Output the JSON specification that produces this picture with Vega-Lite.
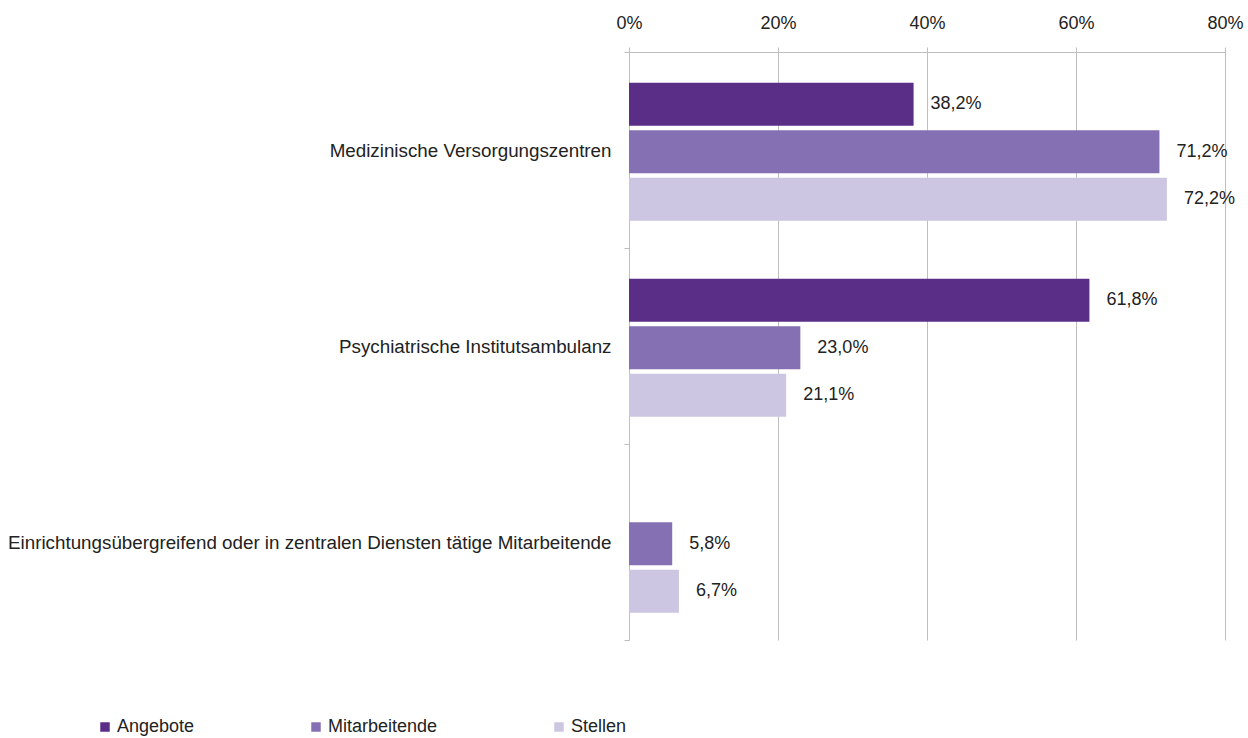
{
  "$schema": "https://vega.github.io/schema/vega-lite/v6.json",
  "autosize": {"type": "none"},
  "padding": {"left": 629, "top": 52, "right": 23, "bottom": 98},
  "width": 596,
  "height": 588,
  "config": {
    "view": {"stroke": null},
    "font": "Liberation Sans",
    "locale": {"number": {"decimal": ",", "thousands": ".", "grouping": [3], "currency": ["", " €"]}}
  },
  "data": {
    "values": [
      {"kategorie": "Medizinische Versorgungszentren", "serie": "Angebote", "wert": 0.382},
      {"kategorie": "Medizinische Versorgungszentren", "serie": "Mitarbeitende", "wert": 0.712},
      {"kategorie": "Medizinische Versorgungszentren", "serie": "Stellen", "wert": 0.722},
      {"kategorie": "Psychiatrische Institutsambulanz", "serie": "Angebote", "wert": 0.618},
      {"kategorie": "Psychiatrische Institutsambulanz", "serie": "Mitarbeitende", "wert": 0.230},
      {"kategorie": "Psychiatrische Institutsambulanz", "serie": "Stellen", "wert": 0.211},
      {"kategorie": "Einrichtungsübergreifend oder in zentralen Diensten tätige Mitarbeitende", "serie": "Mitarbeitende", "wert": 0.058},
      {"kategorie": "Einrichtungsübergreifend oder in zentralen Diensten tätige Mitarbeitende", "serie": "Stellen", "wert": 0.067}
    ]
  },
  "encoding": {
    "y": {
      "field": "kategorie",
      "type": "nominal",
      "sort": null,
      "title": null,
      "scale": {"paddingInner": 0, "paddingOuter": 0},
      "axis": {
        "tickBand": "extent",
        "tickSize": 5,
        "tickColor": "#bfbfbf",
        "domainColor": "#bfbfbf",
        "labelFontSize": 18.8,
        "labelColor": "#222222",
        "labelPadding": 13,
        "labelLimit": 700,
        "grid": false
      }
    },
    "yOffset": {
      "field": "serie",
      "type": "nominal",
      "sort": ["Angebote", "Mitarbeitende", "Stellen"],
      "scale": {"domain": ["Angebote", "Mitarbeitende", "Stellen"], "paddingInner": 0.095, "paddingOuter": 0.61, "align": 0.53}
    },
    "x": {
      "field": "wert",
      "type": "quantitative",
      "title": null,
      "scale": {"domain": [0, 0.8], "nice": false},
      "axis": {
        "orient": "top",
        "values": [0, 0.2, 0.4, 0.6, 0.8],
        "format": ".0%",
        "labelFontSize": 18,
        "labelColor": "#222222",
        "tickSize": 5,
        "tickColor": "#bfbfbf",
        "domainColor": "#bfbfbf",
        "gridColor": "#bfbfbf",
        "labelPadding": 15,
        "labelFlush": false
      }
    }
  },
  "layer": [
    {
      "mark": {"type": "bar"},
      "encoding": {
        "color": {
          "field": "serie",
          "type": "nominal",
          "scale": {"domain": ["Angebote", "Mitarbeitende", "Stellen"], "range": ["#5a2d87", "#8470b3", "#cdc6e3"]},
          "legend": {
            "orient": "none",
            "legendX": -533,
            "legendY": 666,
            "direction": "horizontal",
            "title": null,
            "symbolType": "square",
            "symbolSize": 90,
            "symbolStrokeWidth": 0,
            "labelFontSize": 18,
            "labelColor": "#222222",
            "labelOffset": 3,
            "columnPadding": 112
          }
        }
      }
    },
    {
      "mark": {"type": "text", "align": "left", "baseline": "middle", "dx": 17, "fontSize": 18, "color": "#222222"},
      "encoding": {
        "text": {"field": "wert", "type": "quantitative", "format": ".1%"}
      }
    }
  ]
}
